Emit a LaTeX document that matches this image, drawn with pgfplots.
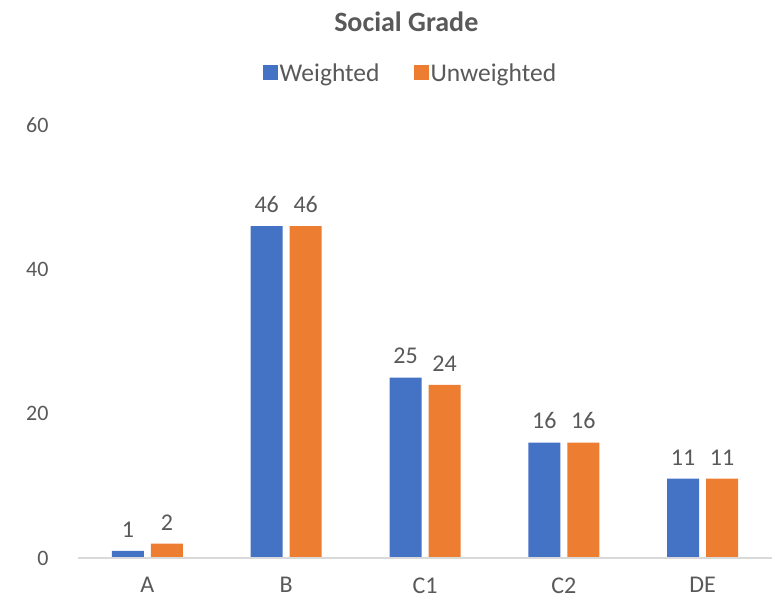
\documentclass[border=0pt]{standalone}
\usepackage{pgfplots}
\pgfplotsset{compat=1.18}
\usepackage{fontspec}
\setmainfont{Carlito}
\definecolor{cblue}{HTML}{4472C4}
\definecolor{corange}{HTML}{ED7D31}
\definecolor{txt}{HTML}{595959}
\definecolor{axl}{HTML}{D9D9D9}
\begin{document}
\begin{tikzpicture}[x=1pt,y=1pt]
\path (-78,-43) rectangle (698,558);
\begin{axis}[
  at={(0,0)}, anchor=south west,
  scale only axis, width=694pt, height=433pt,
  xmin=-0.5, xmax=4.5, ymin=0, ymax=60,
  ybar, bar width=32pt,
  xtick=data, xticklabels={A,B,C1,C2,DE},
  ytick={0,20,40,60},
  axis line style={draw=none},
  axis x line*=bottom,
  axis y line=none,
  major tick length=0pt,
  tick label style={font=\fontsize{24}{28}\selectfont, text=txt},
  /pgf/number format/assume math mode=true,
  xticklabel style={yshift=-16pt},
  nodes near coords,
  every node near coord/.append style={font=\fontsize{24}{28}\selectfont, text=txt, yshift=10pt},
  legend style={at={(0.479,1.0)}, anchor=south, yshift=38pt, draw=none, legend columns=2,
    font=\fontsize{25.5}{28}\selectfont, text=txt, /tikz/every even column/.append style={column sep=32pt}},
  legend image code/.code={\fill[#1] (0pt,-7pt) rectangle (15pt,8pt);},
  title={\bfseries Social Grade}, title style={at={(0.473,1)}, font=\fontsize{28}{32}\selectfont\bfseries, text=txt, yshift=84pt},
  clip=false,
]
\addplot[fill=cblue, draw=none, bar shift=-19.5pt] coordinates {(0,1) (1,46) (2,25) (3,16) (4,11)};
\addplot[fill=corange, draw=none, bar shift=19.5pt] coordinates {(0,2) (1,46) (2,24) (3,16) (4,11)};
\legend{Weighted, Unweighted}
\draw[axl, line width=1.2pt] (axis cs:-0.5,0) -- (axis cs:4.5,0);
\end{axis}
\foreach \v/\y in {0/0,20/144.33,40/288.67,60/433} {\node[anchor=east, text=txt, font=\fontsize{22}{26}\selectfont] at (-26,\y) {\v};}
\end{tikzpicture}
\end{document}
